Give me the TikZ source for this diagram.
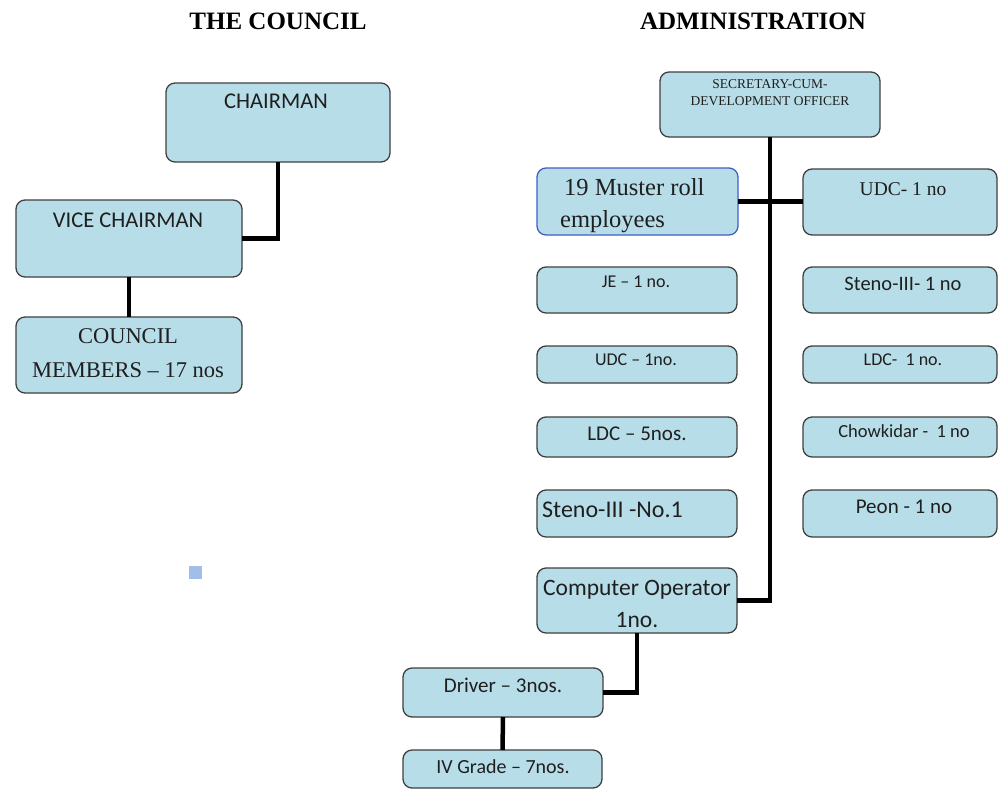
\documentclass[tikz,border=0pt]{standalone}
\usepackage{fontspec}
\setmainfont{Liberation Serif}
\newfontfamily\calib[Ligatures=TeX]{Carlito}
\definecolor{boxfill}{RGB}{183,221,232}
\definecolor{boxline}{RGB}{64,64,64}
\definecolor{muster}{RGB}{64,96,200}
\definecolor{marker}{RGB}{160,190,232}
\newcommand\fs[1]{\fontsize{#1}{#1}\selectfont}
\begin{document}
\begin{tikzpicture}[x=1pt,y=-1pt,
  orgbox/.style={draw=boxline, fill=boxfill, line width=1.3pt, rounded corners=9pt,
    inner sep=0pt, outer sep=0pt, anchor=north west},
  mbox/.style={orgbox, draw=muster},
  link/.style={line width=4.5pt, line join=miter, draw=black},
  ttl/.style={anchor=base, inner sep=0pt, font=\bfseries\fs{25}},
  sans/.style={anchor=base, inner sep=0pt, text=black!88},
  serif/.style={anchor=base, inner sep=0pt, text=black!88}]
\fill[white] (0,0) rectangle (998,790);
\useasboundingbox (0,0) rectangle (998,790);

% headings
\node[ttl] (hcouncil) at (278,29) {THE COUNCIL};
\node[ttl] (hadmin) at (753,29) {ADMINISTRATION};

% the council
\node[orgbox, minimum width=224pt, minimum height=79pt] (chair) at (166,83) {};
\node[orgbox, minimum width=226pt, minimum height=77pt] (vice) at (16,200) {};
\node[orgbox, minimum width=226pt, minimum height=76pt] (members) at (16,317) {};
\draw[link] (chair.south) |- (vice.east);
\draw[link] (vice.south) -- (members.north);

\node[sans, font=\calib\fs{22.5}] (chairT) at (276,108) {CHAIRMAN};
\node[sans, font=\calib\fs{22.5}] (viceT) at (128,227) {VICE CHAIRMAN};
\node[serif, font=\fs{22.5}] (membersA) at (128,343) {COUNCIL};
\node[serif, font=\fs{22.5}] (membersB) at (128,377) {MEMBERS -- 17 nos};

% administration
\node[orgbox, minimum width=220pt, minimum height=65pt] (sec) at (660,72) {};
\node[mbox, minimum width=201pt, minimum height=67pt] (muster) at (537,168) {};
\node[orgbox, minimum width=194pt, minimum height=66pt] (udcone) at (803,169) {};

\node[orgbox, minimum width=200pt, minimum height=46pt] (je) at (537,267) {};
\node[orgbox, minimum width=200pt, minimum height=37pt] (udc) at (537,346) {};
\node[orgbox, minimum width=200pt, minimum height=40pt] (ldcfive) at (537,417) {};
\node[orgbox, minimum width=200pt, minimum height=47pt] (stenoL) at (537,490) {};

\node[orgbox, minimum width=194pt, minimum height=46pt] (stenoR) at (803,267) {};
\node[orgbox, minimum width=194pt, minimum height=37pt] (ldcone) at (803,346) {};
\node[orgbox, minimum width=194pt, minimum height=40pt] (chow) at (803,417) {};
\node[orgbox, minimum width=194pt, minimum height=47pt] (peon) at (803,490) {};

\node[orgbox, minimum width=200pt, minimum height=65pt] (comp) at (537,568) {};
\node[orgbox, minimum width=200pt, minimum height=49pt] (driver) at (403,668) {};
\node[orgbox, minimum width=199pt, minimum height=38pt] (ivg) at (403,750) {};

\draw[link] (sec.south) |- (comp.east);
\draw[link] (muster.east) -- (muster.east -| udcone.west);
\draw[link] (comp.south) |- (driver.east);
\draw[link] (driver.south) -- (ivg.north);

\node[serif, font=\fs{13.5}] (secA) at (770,88) {SECRETARY-CUM-};
\node[serif, font=\fs{13.5}] (secB) at (770,105) {DEVELOPMENT OFFICER};
\node[serif, font=\fs{24.5}, anchor=base west] (musterA) at (564,195) {19 Muster roll};
\node[serif, font=\fs{24.5}, anchor=base west] (musterB) at (560,227) {employees};
\node[serif, font=\fs{19.5}] (udconeT) at (903,195) {UDC- 1 no};

\node[sans, font=\calib\fs{18}] (jeT) at (636,287) {JE -- 1 no.};
\node[sans, font=\calib\fs{18}] (udcT) at (636,365) {UDC -- 1no.};
\node[sans, font=\calib\fs{21}] (ldcfiveT) at (637,440) {LDC -- 5nos.};
\node[sans, font=\calib\fs{24}, anchor=base west] (stenoLT) at (542,517) {Steno-III -No.1};

\node[sans, font=\calib\fs{20.5}] (stenoRT) at (903,290) {Steno-III- 1 no};
\node[sans, font=\calib\fs{18}] (ldconeT) at (903,365) {LDC-\ \ 1 no.};
\node[sans, font=\calib\fs{18.5}] (chowT) at (904,437) {Chowkidar -\ \ 1 no};
\node[sans, font=\calib\fs{21}] (peonT) at (904,513) {Peon - 1 no};

\node[sans, font=\calib\fs{23.5}] (compA) at (637,595) {Computer Operator};
\node[sans, font=\calib\fs{23.5}] (compB) at (637,627) {1no.};
\node[sans, font=\calib\fs{21}] (driverT) at (503,692) {Driver -- 3nos.};
\node[sans, font=\calib\fs{20}] (ivgT) at (503,773) {IV Grade -- 7nos.};

% small marker square
\fill[marker] (189,566) rectangle (202,579);
\end{tikzpicture}
\end{document}
